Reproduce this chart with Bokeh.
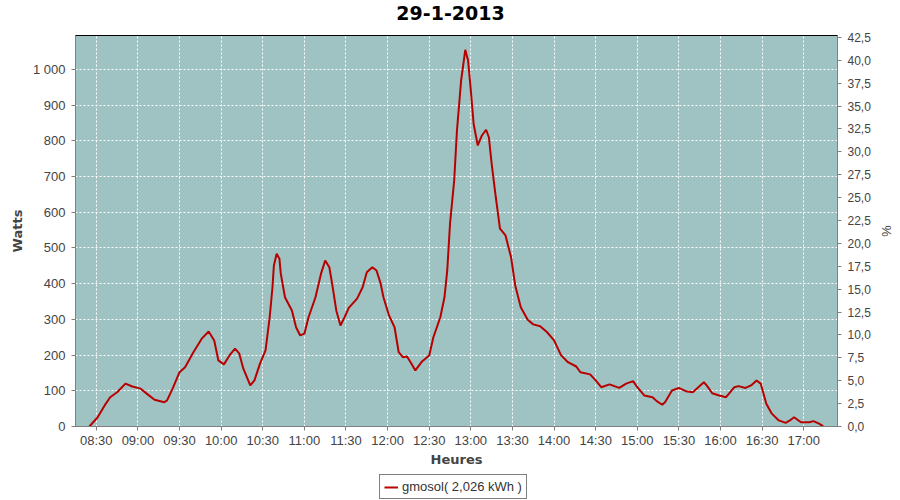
import pandas as pd
from bokeh.plotting import figure
from bokeh.layouts import column
from bokeh.models import (Range1d, LinearAxis, FixedTicker, SingleIntervalTicker, Label,
                          CustomJSTickFormatter, DatetimeTickFormatter, Legend, LegendItem)
from bokeh.embed import file_html
from bokeh.resources import INLINE

title_text = "29-1-2013"
day = "2013-01-29"
series_label = "gmosol( 2,026 kWh )"

times = [
    "08:25", "08:31", "08:36", "08:40", "08:45", "08:51", "08:56", "09:02", "09:07", "09:12",
    "09:19", "09:21", "09:25", "09:30", "09:34", "09:40", "09:46", "09:51", "09:55", "09:58",
    "10:02", "10:06", "10:10", "10:13", "10:16", "10:21", "10:24", "10:28", "10:32", "10:35",
    "10:37", "10:38", "10:40", "10:42", "10:43", "10:46", "10:51", "10:54", "10:57", "11:00",
    "11:03", "11:08", "11:12", "11:15", "11:18", "11:20", "11:23", "11:26", "11:29", "11:32",
    "11:38", "11:42", "11:45", "11:49", "11:52", "11:55", "11:57", "12:01", "12:05", "12:08",
    "12:11", "12:14", "12:17", "12:20", "12:25", "12:30", "12:33", "12:38", "12:41", "12:43",
    "12:45", "12:48", "12:50", "12:53", "12:56", "12:58", "13:00", "13:02", "13:05", "13:08",
    "13:11", "13:13", "13:15", "13:18", "13:21", "13:25", "13:29", "13:32", "13:36", "13:41",
    "13:45", "13:50", "13:55", "14:00", "14:05", "14:10", "14:16", "14:19", "14:26", "14:30",
    "14:34", "14:40", "14:47", "14:52", "14:57", "15:00", "15:05", "15:11", "15:14", "15:18",
    "15:20", "15:25", "15:30", "15:35", "15:40", "15:44", "15:48", "15:50", "15:54", "15:59",
    "16:04", "16:10", "16:13", "16:18", "16:22", "16:26", "16:29", "16:31", "16:33", "16:37",
    "16:42", "16:47", "16:50", "16:53", "16:58", "17:04", "17:07", "17:11", "17:14",
]
watts = [
    0, 26, 59, 82, 96, 120, 112, 106, 90, 75,
    68, 73, 106, 152, 166, 208, 246, 266, 241, 185,
    174, 199, 218, 205, 162, 115, 129, 176, 213, 306,
    390, 450, 484, 470, 428, 362, 325, 278, 255, 260,
    306, 362, 428, 465, 446, 400, 325, 283, 306, 332,
    358, 390, 432, 446, 437, 400, 362, 311, 278, 208,
    194, 196, 177, 157, 183, 199, 250, 306, 362, 437,
    568, 689, 829, 969, 1055, 1025, 941, 848, 787, 815,
    831, 810, 736, 642, 554, 535, 474, 395, 334, 299,
    286, 281, 264, 241, 200, 180, 168, 152, 146, 129,
    110, 118, 108, 120, 127, 110, 87, 82, 71, 61,
    68, 101, 108, 99, 96, 110, 124, 115, 93, 87,
    82, 110, 113, 108, 115, 129, 120, 92, 64, 36,
    17, 10, 17, 26, 12, 12, 15, 8, 1,
]
x_tick_labels = ["08:30", "09:00", "09:30", "10:00", "10:30", "11:00", "11:30", "12:00", "12:30",
                 "13:00", "13:30", "14:00", "14:30", "15:00", "15:30", "16:00", "16:30", "17:00"]
x_limits = ["08:15:00", "17:24:20"]
watts_max = 1095
pct_max = 42.7

def ts(s):
    return pd.Timestamp(f"{day} {s}")

x = [ts(s) for s in times]
xticks = [ts(s).value / 1e6 for s in x_tick_labels]

FONT = "Liberation Sans"
BOLD = "DejaVu Sans"
LINE_COLOR = "#B80000"
FW = 762
BORDERS = dict(min_border_left=75, min_border_right=55)

def strip(h):
    f = figure(frame_width=FW, frame_height=h, x_range=Range1d(0, 1), y_range=Range1d(0, 1),
               x_axis_location=None, y_axis_location=None,
               output_backend="svg", toolbar_location=None,
               min_border_top=0, min_border_bottom=0, **BORDERS,
               outline_line_color=None, background_fill_color="white", border_fill_color="white")
    f.xgrid.visible = False
    f.ygrid.visible = False
    return f

# title strip
p0 = strip(27)
p0.add_layout(Label(x=FW / 2 - 6, y=14.5, x_units="screen", y_units="screen",
                    text=title_text, text_align="center", text_baseline="middle",
                    text_font=BOLD, text_font_size="19px", text_font_style="bold",
                    text_color="black"))

p = figure(frame_width=FW, frame_height=391, x_axis_type="datetime",
           x_range=Range1d(ts(x_limits[0]), ts(x_limits[1])),
           y_range=Range1d(0, watts_max),
           output_backend="svg", toolbar_location=None,
           min_border_top=8, min_border_bottom=48, **BORDERS,
           background_fill_color="#9EC3C2", border_fill_color="white",
           outline_line_color="black", outline_line_width=1)

r = p.line(x, watts, line_color=LINE_COLOR, line_width=2)

p.extra_y_ranges = {"pct": Range1d(0, pct_max)}
right = LinearAxis(y_range_name="pct", ticker=SingleIntervalTicker(interval=2.5),
                   formatter=CustomJSTickFormatter(code="return tick.toFixed(1).replace('.', ',');"),
                   axis_label="%")
p.add_layout(right, "right")

p.yaxis[0].ticker = SingleIntervalTicker(interval=100)
p.yaxis[0].formatter = CustomJSTickFormatter(code="""
    if (tick >= 1000) { var r = String(tick % 1000); while (r.length < 3) r = '0' + r; return Math.floor(tick/1000) + ' ' + r; }
    return String(tick);""")
p.yaxis[0].axis_label = "Watts"

p.xaxis.ticker = FixedTicker(ticks=xticks)
p.xaxis.formatter = DatetimeTickFormatter(minutes="%H:%M", hours="%H:%M", hourmin="%H:%M")
p.xaxis.axis_label = "Heures"

for ax in p.axis:
    ax.axis_line_color = "#808080"
    ax.major_tick_line_color = "#808080"
    ax.minor_tick_line_color = None
    ax.major_tick_out = 4
    ax.major_tick_in = 0
    ax.major_label_text_font = FONT
    ax.major_label_text_font_size = "13px"
    ax.major_label_text_color = "#444444"
    ax.axis_label_text_font = BOLD
    ax.axis_label_text_font_style = "bold"
    ax.axis_label_text_font_size = "13px"
    ax.axis_label_text_color = "#444444"
    ax.major_label_standoff = 6

p.xaxis.major_label_standoff = 2
p.xaxis.axis_label_standoff = 1

right.axis_label_text_font = FONT
right.axis_label_text_font_style = "normal"
right.major_label_text_font_size = "12px"

p.xgrid.ticker = FixedTicker(ticks=xticks)
for g in (p.xgrid, p.ygrid):
    g.grid_line_color = "white"
    g.grid_line_dash = "2 2"
    g.grid_line_width = 1

# legend strip below the chart; its key line reuses the series data, which lies
# outside this strip's 0..1 ranges, so only the legend swatch shows
p2 = strip(26)
key = p2.line(x, watts, line_color=LINE_COLOR, line_width=2)
legend = Legend(items=[LegendItem(label=series_label, renderers=[key])],
                location=(304, 1), orientation="horizontal",
                border_line_color="black", border_line_width=1,
                label_text_font=FONT, label_text_font_size="13px", label_text_color="#333333",
                glyph_width=14, glyph_height=14, label_height=14, padding=4, margin=0, spacing=0,
                label_standoff=4, background_fill_color="white")
p2.add_layout(legend)

open("out.html", "w").write(file_html(column(p0, p, p2, spacing=0), INLINE))
